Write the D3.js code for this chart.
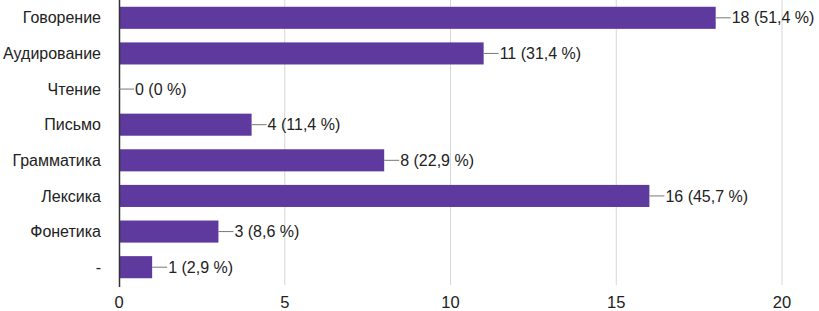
<!DOCTYPE html>
<html>
<head>
  <meta charset="utf-8" />
  <title>Bar chart</title>
  <script src="https://d3js.org/d3.v7.min.js"></script>
  <style>
    body { margin: 0; background: #fff; }
    text { font-family: "Liberation Sans", Arial, sans-serif; }
  </style>
</head>
<body>
  <script>
    const categories = ["Говорение", "Аудирование", "Чтение", "Письмо", "Грамматика", "Лексика", "Фонетика", "-"];
    const counts = [18, 11, 0, 4, 8, 16, 3, 1];
    const percents = ["51,4", "31,4", "0", "11,4", "22,9", "45,7", "8,6", "2,9"];
    const xTicks = [0, 5, 10, 15, 20];

    const data = categories.map((c, i) => ({ name: c, v: counts[i], p: percents[i] }));

    const width = 819, height = 311;
    const plotLeft = 119, plotRight = 782, plotTop = 0, plotBottom = 285;

    const svg = d3.select("body").append("svg")
      .attr("width", width)
      .attr("height", height);

    const x = d3.scaleLinear().domain([0, 20]).range([plotLeft, plotRight]);
    const y = d3.scaleBand().domain(categories).range([plotTop, plotBottom]).paddingInner(0.38).paddingOuter(0.19);

    // сетка
    svg.append("g").selectAll("line")
      .data(xTicks.slice(1))
      .enter().append("line")
      .attr("x1", d => x(d)).attr("x2", d => x(d))
      .attr("y1", plotTop).attr("y2", plotBottom)
      .attr("stroke", "#d6d6d6").attr("stroke-width", 1);

    // подписи оси X
    svg.append("g").selectAll("text")
      .data(xTicks)
      .enter().append("text")
      .attr("x", d => x(d))
      .attr("y", 308)
      .attr("text-anchor", "middle")
      .attr("font-size", 16.5)
      .attr("fill", "#222")
      .text(d => d);

    // столбцы
    svg.append("g").selectAll("rect")
      .data(data)
      .enter().append("rect")
      .attr("x", x(0))
      .attr("y", d => y(d.name))
      .attr("width", d => x(d.v) - x(0))
      .attr("height", y.bandwidth())
      .attr("fill", "#5e3a9e");

    // ось Y
    svg.append("line")
      .attr("x1", plotLeft + 0.5).attr("x2", plotLeft + 0.5)
      .attr("y1", plotTop).attr("y2", plotBottom + 2)
      .attr("stroke", "#333").attr("stroke-width", 1.5);

    // названия категорий
    svg.append("g").selectAll("text")
      .data(data)
      .enter().append("text")
      .attr("x", plotLeft - 18)
      .attr("y", d => y(d.name) + y.bandwidth() / 2)
      .attr("dy", "0.35em")
      .attr("text-anchor", "end")
      .attr("font-size", 16)
      .attr("fill", "#222")
      .text(d => d.name);

    // выноски
    const lab = svg.append("g").selectAll("g")
      .data(data)
      .enter().append("g");

    lab.append("line")
      .attr("x1", d => x(d.v))
      .attr("x2", d => x(d.v) + 15)
      .attr("y1", d => y(d.name) + y.bandwidth() / 2)
      .attr("y2", d => y(d.name) + y.bandwidth() / 2)
      .attr("stroke", "#777").attr("stroke-width", 1);

    lab.append("text")
      .attr("x", d => x(d.v) + 16)
      .attr("y", d => y(d.name) + y.bandwidth() / 2)
      .attr("dy", "0.35em")
      .attr("font-size", 16)
      .attr("fill", "#222")
      .text(d => d.v + " (" + d.p + " %)");
  </script>
</body>
</html>
